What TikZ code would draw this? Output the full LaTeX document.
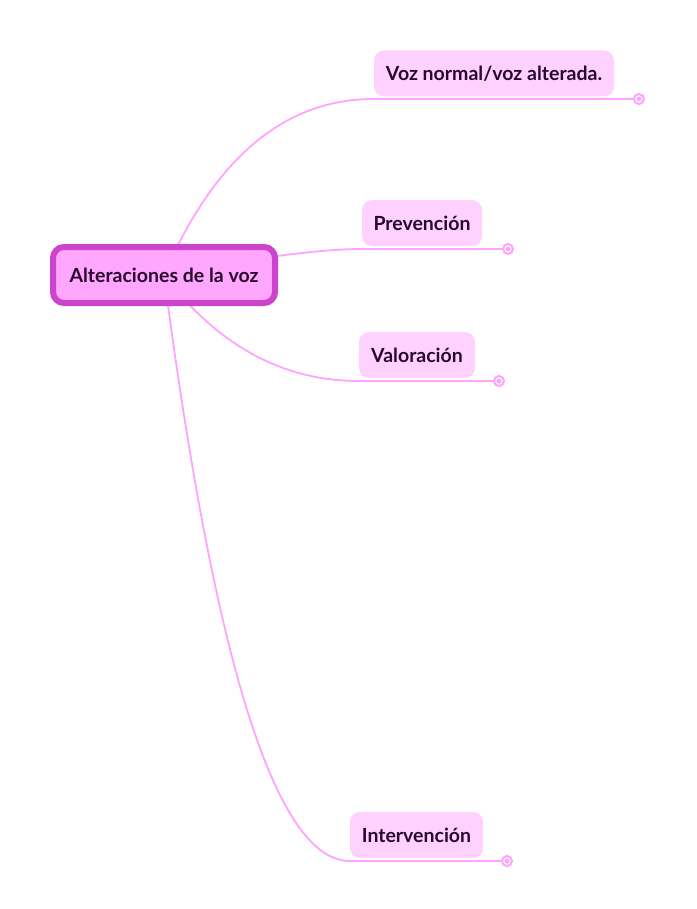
\documentclass[tikz,border=0pt]{standalone}
\usepackage{fontspec}
\setmainfont{Lato}
\usetikzlibrary{backgrounds}
\definecolor{linkcol}{HTML}{FFA3FF}
\definecolor{rootline}{HTML}{CC44CC}
\definecolor{rootfill}{HTML}{FFA6FF}
\definecolor{branchfill}{HTML}{FFD1FF}
\definecolor{inkcol}{HTML}{2A0A2C}

\begin{document}
\begin{tikzpicture}[x=1pt,y=-1pt,
    root/.style={draw=rootline,line width=6pt,fill=rootfill,rounded corners=11pt,
      minimum width=222pt,minimum height=56pt,inner sep=0pt,
      text=inkcol,font=\fontsize{19.5}{21}\selectfont\bfseries},
    branch/.style={fill=branchfill,rounded corners=10pt,minimum height=46pt,
      inner sep=0pt,text=inkcol,font=\fontsize{19.5}{21}\selectfont\bfseries},
    link/.style={draw=linkcol,line width=1.8pt},
    dot/.style={circle,draw=linkcol,line width=2pt,fill=white,
      minimum size=10pt,inner sep=0pt}]
  \useasboundingbox (0,0) rectangle (696,909);
  \node[root] (root) at (164,275) {Alteraciones de la voz};
  \node[branch,minimum width=240pt] (voz) at (494,73.5) {Voz normal/voz alterada.};
  \node[branch,minimum width=120pt] (prev) at (422,223) {Prevención};
  \node[branch,minimum width=116pt] (valo) at (417,355) {Valoración};
  \node[branch,minimum width=133pt] (inter) at (416.5,835) {Intervención};
  \node[dot] (vozdot) at (639,99) {};
  \node[dot] (prevdot) at (508,249) {};
  \node[dot] (valodot) at (499,381) {};
  \node[dot] (interdot) at (507,861) {};
  \foreach \d in {vozdot,prevdot,valodot,interdot}
    \fill[linkcol] (\d) circle [radius=2.5pt];
  \begin{pgfonlayer}{background}
  \draw[link]
    (root.center)
    .. controls (214.7,157.7) and (284.7,99) ..
    (voz.south west |- vozdot)
    --
    (vozdot);
  \draw[link]
    (root.center)
    .. controls (254.7,257.7) and (320.7,249) ..
    (prev.south west |- prevdot)
    --
    (prevdot);
  \draw[link]
    (root.center)
    .. controls (218,345.7) and (283,381) ..
    (valo.south west |- valodot)
    --
    (valodot);
  \draw[link]
    (root.center)
    .. controls (214.7,665.7) and (276.7,861) ..
    (inter.south west |- interdot)
    --
    (interdot);
  \end{pgfonlayer}
\end{tikzpicture}
\end{document}
